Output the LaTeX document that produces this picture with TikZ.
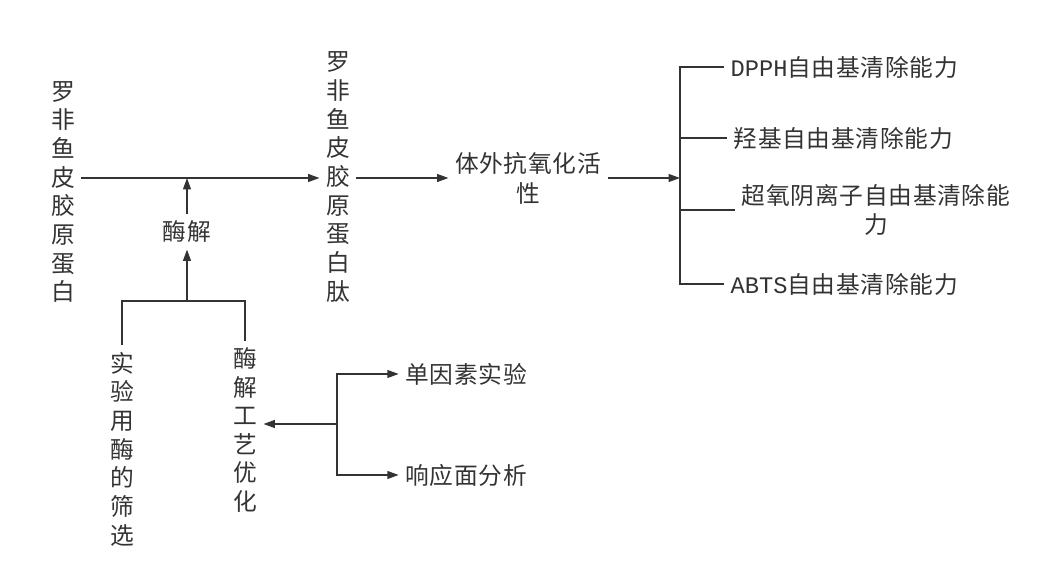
\documentclass[tikz,border=0pt]{standalone}
\usepackage{fontspec}
\setmainfont{Noto Sans CJK SC}
\setmonofont{Liberation Mono}
\newfontfamily\hzfont[LetterSpace=3]{Noto Sans CJK SC}
\usetikzlibrary{arrows.meta}
\definecolor{ink}{HTML}{333333}

\begin{document}
\begin{tikzpicture}[
  x = 0.02cm, y = -0.02cm,
  color = ink,
  line width = 0.85pt,
  every node/.style = {font = \fontsize{13.5pt}{17pt}\selectfont},
  vtext/.style = {align = center, font = \fontsize{13.5pt}{16.3pt}\selectfont},
  htext/.style = {align = center, font = \hzfont\fontsize{13.5pt}{17pt}\selectfont},
  arr/.style = {-{Triangle[length = 6.5pt, width = 4.5pt]}}
]
\useasboundingbox (0,0) rectangle (1056,580);

% textos
\node[vtext] (src) at (63,192) {罗\\非\\鱼\\皮\\胶\\原\\蛋\\白};
\node[vtext] (pep) at (338,177) {罗\\非\\鱼\\皮\\胶\\原\\蛋\\白\\肽};
\node[htext] (enz) at (187,232) {酶解};
\node[vtext] (scr) at (122,449) {实\\验\\用\\酶\\的\\筛\\选};
\node[vtext] (opt) at (245,430) {酶\\解\\工\\艺\\优\\化};
\node[htext] (anti) at (528,178) {体外抗氧化活\\性};
\node[htext, anchor = west] (dpph) at (724,67) {\texttt{DPPH}自由基清除能力};
\node[htext, anchor = west] (oh) at (727,138) {羟基自由基清除能力};
\node[htext] (sup) at (876,210) {超氧阴离子自由基清除能\\力};
\node[htext, anchor = west] (abts) at (724,284) {\texttt{ABTS}自由基清除能力};
\node[htext] (sfe) at (466,374) {单因素实验};
\node[htext] (rsm) at (466,475) {响应面分析};

\coordinate (jtop) at (187,178);
\coordinate (jbot) at (187,301);
\coordinate (br) at (680,178);
\coordinate (fork) at (337,424);

% fluxo principal
\draw[arr] (src.east |- jtop) -- (pep.west |- jtop);
\draw[arr] (pep.east |- anti) -- (anti);
\draw[arr] (anti) -- (br);

% hidrólise
\draw[arr] (jbot) -- (enz);
\draw[arr] (enz) -- (jtop);
\draw (scr.north) |- (jbot) -| (opt.north);

% otimização
\draw[arr] (fork) -- (opt.east |- fork);
\draw[arr] (fork) |- (sfe);
\draw[arr] (fork) |- (rsm);

% ensaios
\draw (dpph.west) -| (br) |- (abts.west);
\draw (br |- oh) -- (oh.west);
\draw (br |- sup) -- (sup.west);

\end{tikzpicture}
\end{document}
